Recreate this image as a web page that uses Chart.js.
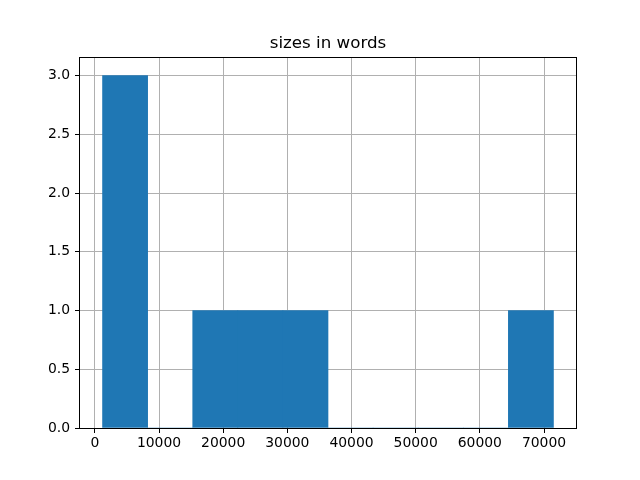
<!DOCTYPE html>
<html>
<head>
<meta charset="utf-8">
<script src="https://cdn.jsdelivr.net/npm/chart.js@4/dist/chart.umd.min.js"></script>
<style>
  html, body { margin: 0; padding: 0; background: #fff; }
  #wrap { width: 640px; height: 480px; }
</style>
</head>
<body>
<div id="wrap"><canvas id="histChart" width="640" height="480"></canvas></div>
<script>
// histogram of document sizes (10 bins between min and max)
const sizeMin = 1200;
const sizeMax = 71470;
const counts = [3, 0, 1, 1, 1, 0, 0, 0, 0, 1];
const xTickValues = [0, 10000, 20000, 30000, 40000, 50000, 60000, 70000];
const yTickValues = [0, 0.5, 1.0, 1.5, 2.0, 2.5, 3.0];
const chartTitle = 'sizes in words';

const binWidth = (sizeMax - sizeMin) / counts.length;
const binCenters = counts.map((c, i) => sizeMin + binWidth * (i + 0.5));
const span = sizeMax - sizeMin;
const yMax = Math.max(...counts) * 1.05;

Chart.defaults.font.family = '"DejaVu Sans", sans-serif';
Chart.defaults.color = '#000';

// spines on all four sides
const frame = {
    id: 'frame',
    afterDraw(chart) {
        const { ctx, chartArea: a } = chart;
        ctx.save();
        ctx.strokeStyle = '#000';
        ctx.lineWidth = 1;
        ctx.strokeRect(Math.round(a.left) - 0.5, Math.round(a.top) - 0.5,
            Math.round(a.right - a.left) + 1, Math.round(a.bottom - a.top) + 1);
        ctx.restore();
    }
};

const ctx = document.getElementById('histChart').getContext('2d');
new Chart(ctx, {
    type: 'bar',
    data: {
        datasets: [{
            data: binCenters.map((x, i) => ({ x: x, y: counts[i] })),
            backgroundColor: '#1f77b4',
            borderWidth: 0,
            categoryPercentage: 1.0,
            barPercentage: 1.0
        }]
    },
    options: {
        responsive: false,
        animation: false,
        // left padding keeps the title centred over the plot area
        layout: { padding: { left: 16, right: 0, top: 0, bottom: 0 } },
        plugins: {
            legend: { display: false },
            tooltip: { enabled: false },
            title: {
                display: true,
                text: chartTitle,
                color: '#000',
                font: { size: 16.7, weight: 'normal' },
                padding: { top: 33.5, bottom: 4.5 }
            }
        },
        scales: {
            x: {
                type: 'linear',
                offset: false,
                min: sizeMin - span * 0.05,
                max: sizeMax + span * 0.05,
                z: 1,
                afterBuildTicks: s => { s.ticks = xTickValues.map(v => ({ value: v })); },
                afterFit: s => { s.height = 52; },
                grid: {
                    offset: false,
                    color: '#b0b0b0',
                    lineWidth: 1,
                    tickColor: '#000',
                    tickLength: 5
                },
                border: { display: false },
                ticks: {
                    padding: 2,
                    maxRotation: 0,
                    font: { size: 13.9 },
                    callback: v => String(v)
                }
            },
            y: {
                min: 0,
                max: yMax,
                z: 1,
                afterBuildTicks: s => { s.ticks = yTickValues.map(v => ({ value: v })); },
                afterFit: s => { s.width = 64; },
                grid: {
                    color: '#b0b0b0',
                    lineWidth: 1,
                    tickColor: '#000',
                    tickLength: 5
                },
                border: { display: false },
                ticks: {
                    padding: 5,
                    font: { size: 13.9 },
                    callback: v => Number(v).toFixed(1)
                }
            },
            // empty right margin
            yRight: {
                type: 'linear',
                position: 'right',
                min: 0,
                max: yMax,
                afterFit: s => { s.width = 64; },
                grid: { display: false },
                border: { display: false },
                ticks: { display: false }
            }
        }
    },
    plugins: [frame]
});
</script>
</body>
</html>
